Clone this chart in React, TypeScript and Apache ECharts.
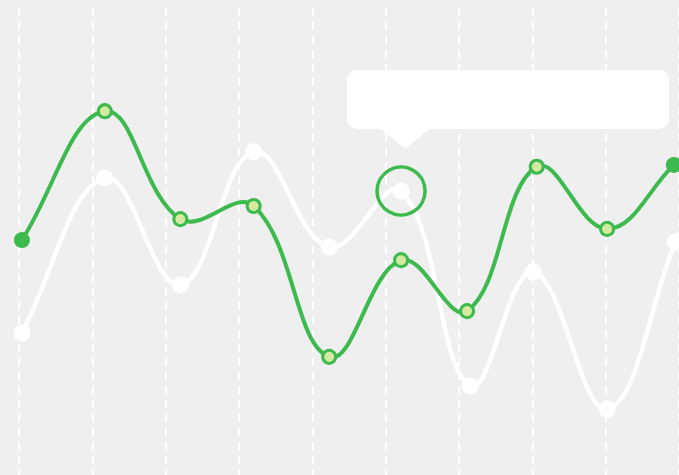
import React, { useEffect, useRef } from "react";
import * as echarts from "echarts";

// x positions (in slot units along the dashed guide lines) and y values
const greenX = [0.04, 1.17, 2.2, 3.2, 4.23, 5.21, 6.11, 7.06, 8.02, 8.93];
const greenValues = [50.3, 77.9, 54.8, 57.6, 25.3, 46.0, 35.1, 66.0, 52.7, 66.4];
const whiteX = [0.04, 1.17, 2.2, 3.2, 4.23, 5.21, 6.15, 7.01, 8.02, 8.95];
const whiteValues = [30.4, 63.6, 40.7, 69.2, 48.8, 60.8, 19.1, 43.5, 14.1, 49.9];
const highlightIndex = 5;

const GREEN = "#3dba4e";
const LIGHT = "#d6e9a0";
const TENSION = 0.4;

function splineSeries(xs: number[], ys: number[], color: string, width: number, z: number) {
  return {
    type: "custom",
    z,
    clip: false,
    silent: true,
    data: xs.slice(0, -1).map((x, i) => [x, ys[i]]),
    encode: { x: 0, y: 1 },
    renderItem: (params: any, api: any) => {
      const i = params.dataIndex;
      const pts = xs.map((x, k) => api.coord([x, ys[k]]) as number[]);
      const n = pts.length;
      const cps = pts.map((cur, k) => {
        const prev = pts[Math.max(0, k - 1)];
        const next = pts[Math.min(n - 1, k + 1)];
        const d01 = Math.hypot(cur[0] - prev[0], cur[1] - prev[1]);
        const d12 = Math.hypot(next[0] - cur[0], next[1] - cur[1]);
        const tot = d01 + d12 || 1;
        const fa = (TENSION * d01) / tot;
        const fb = (TENSION * d12) / tot;
        const vx = next[0] - prev[0];
        const vy = next[1] - prev[1];
        return {
          before: [cur[0] - fa * vx, cur[1] - fa * vy],
          after: [cur[0] + fb * vx, cur[1] + fb * vy],
        };
      });
      const a = pts[i];
      const b = pts[i + 1];
      return {
        type: "bezierCurve",
        shape: {
          x1: a[0],
          y1: a[1],
          cpx1: cps[i].after[0],
          cpy1: cps[i].after[1],
          cpx2: cps[i + 1].before[0],
          cpy2: cps[i + 1].before[1],
          x2: b[0],
          y2: b[1],
        },
        style: { stroke: color, lineWidth: width, fill: "none", lineCap: "round" },
      };
    },
  };
}

export default function App() {
  const ref = useRef<HTMLDivElement>(null);
  useEffect(() => {
    if (!ref.current) return;
    const chart = echarts.init(ref.current, undefined, { renderer: "svg" });
    const greenData = greenValues.map((v, i) => {
      const edge = i === 0 || i === greenValues.length - 1;
      return {
        value: [greenX[i], v],
        symbolSize: edge ? 16 : 13,
        itemStyle: edge
          ? { color: GREEN, borderWidth: 0, opacity: 1 }
          : { color: LIGHT, borderColor: GREEN, borderWidth: 3, opacity: 1 },
      };
    });
    const whiteData = whiteValues.map((v, i) => [whiteX[i], v]);
    chart.setOption({
      animation: false,
      backgroundColor: "#efefef",
      grid: { left: 19, right: 0, top: 8, bottom: 0 },
      xAxis: {
        type: "value",
        min: 0,
        max: 9,
        interval: 1,
        axisLine: { show: false },
        axisTick: { show: false },
        axisLabel: { show: false },
        splitLine: {
          show: true,
          lineStyle: { color: "#ffffff", type: [8, 6], width: 2 },
        },
      },
      yAxis: {
        type: "value",
        min: 0,
        max: 100,
        axisLine: { show: false },
        axisTick: { show: false },
        axisLabel: { show: false },
        splitLine: { show: false },
      },
      series: [
        splineSeries(whiteX, whiteValues, "#ffffff", 4.5, 2),
        {
          type: "scatter",
          data: whiteData,
          symbol: "circle",
          symbolSize: 17,
          silent: true,
          itemStyle: { color: "#ffffff", opacity: 1 },
          z: 3,
        },
        splineSeries(greenX, greenValues, GREEN, 4, 4),
        {
          type: "scatter",
          data: greenData,
          symbol: "circle",
          silent: true,
          z: 5,
        },
        {
          type: "scatter",
          data: [[whiteX[highlightIndex], whiteValues[highlightIndex]]],
          symbol: "circle",
          symbolSize: 48,
          silent: true,
          itemStyle: { color: "rgba(0,0,0,0)", borderColor: GREEN, borderWidth: 3.5, opacity: 1 },
          z: 6,
        },
      ],
      graphic: [
        {
          type: "rect",
          shape: { x: 347, y: 70, width: 322, height: 59, r: 10 },
          style: { fill: "#ffffff" },
          z: 100,
        },
        {
          type: "polygon",
          shape: { points: [[380, 128], [431, 128], [405, 149]] },
          style: { fill: "#ffffff" },
          z: 100,
        },
      ],
    });
    return () => chart.dispose();
  }, []);
  return <div ref={ref} style={{ width: 679, height: 475, position: "fixed", left: 0, top: 0 }} />;
}
